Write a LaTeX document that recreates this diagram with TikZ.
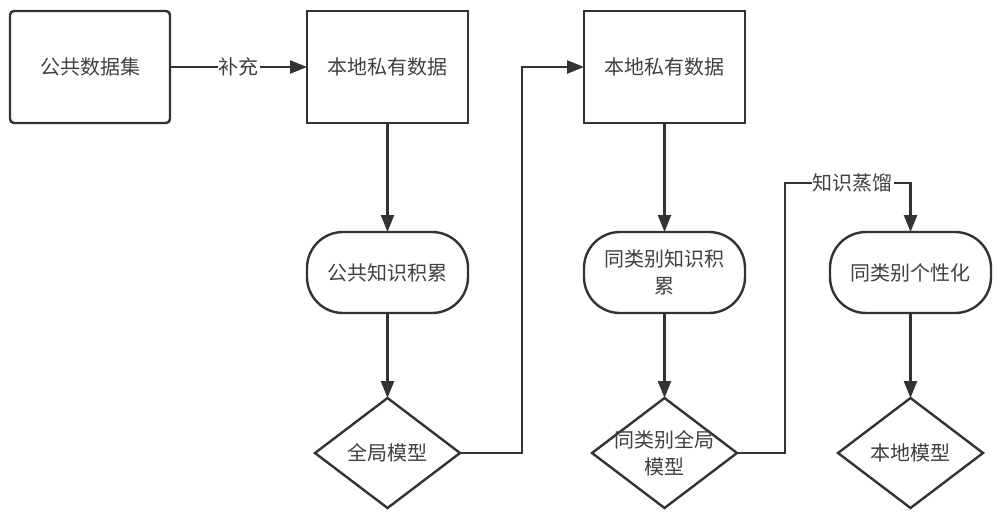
\documentclass[tikz,border=0pt]{standalone}
\usepackage{fontspec}
\setmainfont{Noto Sans CJK SC}
\usetikzlibrary{arrows.meta, positioning, shapes.geometric}

\begin{document}
\begin{tikzpicture}[x=1pt,y=-1pt,>={Triangle[length=17pt,width=13pt]},
		line width=2.4pt,color=black!80,text=black!75,
		font=\fontsize{20}{27}\selectfont,
		data node/.style={rectangle,draw,minimum width=161pt,minimum height=112pt,outer sep=0pt},
		flow node/.style={rectangle,draw,rounded corners=36pt,minimum width=161pt,minimum height=81pt,align=center,outer sep=0pt},
		model node/.style={diamond,draw,minimum width=145pt,minimum height=110pt,inner sep=0pt,outer sep=0pt}]
		
		\useasboundingbox (0,0) rectangle (1000,519);
		
		\node[data node,rounded corners=4pt,minimum width=160pt] (pub) at (90,67) {公共数据集};
		\node[data node] (pd1) [right=137pt of pub] {本地私有数据};
		\node[flow node] (acc1) [below=109pt of pd1] {公共知识积累};
		\node[model node] (gm1) [below=85pt of acc1] {全局模型};
		\node[data node] (pd2) [right=116pt of pd1] {本地私有数据};
		\node[flow node] (acc2) [below=109pt of pd2] {同类别知识积\\累};
		\node[model node,label={[align=center]center:同类别全局\\模型}] (gm2) [below=85pt of acc2] {};
		\node[flow node] (pz) [right=85pt of acc2] {同类别个性化};
		\node[model node] (lm) [below=85pt of pz] {本地模型};
		
		\path[->,every node/.style={fill=white,inner sep=1pt}]
		(pub) edge node {补充} (pd1)
		(pd1) edge (acc1)
		(acc1) edge (gm1)
		(pd2) edge (acc2)
		(acc2) edge (gm2)
		(pz) edge (lm);
		
		\draw[->] (gm1.east) -- ++(62,0) |- (pd2.west);
		\draw[->] (gm2.east) -- ++(48,0) |- node[pos=0.77,fill=white,inner sep=1pt] {知识蒸馏} ([yshift=49pt]pz.north) -- (pz.north);
		
	\end{tikzpicture}
\end{document}
